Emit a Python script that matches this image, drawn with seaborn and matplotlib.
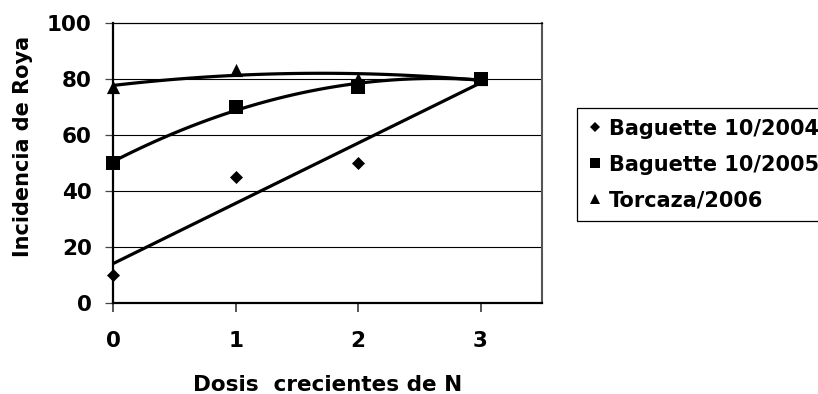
import matplotlib
matplotlib.use("Agg")
import matplotlib.pyplot as plt
from matplotlib.lines import Line2D
import numpy as np
import pandas as pd
import seaborn as sns

# Nitrogen dose levels and rust incidence per variety/season
dosis = [0, 1, 2, 3]
baguette_2004 = [10, 45, 50, 80]
baguette_2005 = [50, 70, 77, 80]
torcaza_2006 = [77, 83, 80, 80]

series_labels = ["Baguette 10/2004", "Baguette 10/2005", "Torcaza/2006"]
y_ticks = [0, 20, 40, 60, 80, 100]
x_ticks = [0, 1, 2, 3]

sns.set_theme(style="white")
plt.rcParams["font.family"] = ["DejaVu Sans"]
plt.rcParams["font.weight"] = "bold"
plt.rcParams["text.color"] = "black"
plt.rcParams["axes.labelcolor"] = "black"
plt.rcParams["xtick.labelcolor"] = "black"
plt.rcParams["ytick.labelcolor"] = "black"

fig = plt.figure(figsize=(8.18, 3.94), dpi=100)
W, H = 818, 394
ax = fig.add_axes([113.3 / W, 1 - 302.7 / H, (541.7 - 113.3) / W, (302.7 - 22.7) / H])

series = [
    (baguette_2004, "D", 1, 44),
    (baguette_2005, "s", 2, 100),
    (torcaza_2006, "^", 2, 90),
]

for values, marker, order, size in series:
    df = pd.DataFrame({"dosis": dosis, "incidencia": values})
    # trend line (linear or quadratic fit)
    sns.regplot(data=df, x="dosis", y="incidencia", order=order, ci=None,
                scatter=False, ax=ax,
                line_kws={"color": "black", "lw": 2.3, "zorder": 3,
                          "solid_capstyle": "butt"})
    sns.scatterplot(data=df, x="dosis", y="incidencia", marker=marker, s=size,
                    color="black", edgecolor="black", linewidth=0, ax=ax,
                    zorder=4, clip_on=False)

ax.set_xlim(0, 3.5)
ax.set_ylim(0, 100)
ax.set_xticks(x_ticks)
ax.set_yticks(y_ticks)
ax.set_xticklabels([str(t) for t in x_ticks], fontsize=15.5, fontweight="bold")
ax.set_yticklabels([str(t) for t in y_ticks], fontsize=15.5, fontweight="bold")

# horizontal gridlines
for yv in y_ticks[1:-1]:
    ax.axhline(yv, color="black", lw=0.8, zorder=1)

for side in ["left", "bottom"]:
    ax.spines[side].set_color("black")
    ax.spines[side].set_linewidth(1.6)
ax.spines["top"].set_color("black")
ax.spines["top"].set_linewidth(0.9)
ax.spines["right"].set_color("#555555")
ax.spines["right"].set_linewidth(1.5)

ax.tick_params(axis="y", direction="out", length=6, width=0.9, color="#444444",
               labelcolor="black", pad=9.5, left=True)
ax.tick_params(axis="x", direction="out", length=6.5, width=1.4, color="#555555",
               labelcolor="black", pad=14, bottom=True)

ax.set_xlabel("Dosis  crecientes de N", fontsize=15.5, fontweight="bold", color="black")
ax.set_ylabel("Incidencia de Roya", fontsize=15, fontweight="bold", color="black")
ax.xaxis.label.set_va("baseline")
ax.xaxis.set_label_coords(0.501, -0.314)
ax.yaxis.label.set_va("center")
ax.yaxis.set_label_coords(-0.211, 0.557)

handles = [
    Line2D([], [], marker="D", ls="none", color="black", markersize=5.4, markeredgewidth=0),
    Line2D([], [], marker="s", ls="none", color="black", markersize=7.8, markeredgewidth=0),
    Line2D([], [], marker="^", ls="none", color="black", markersize=7.8, markeredgewidth=0),
]
leg = fig.legend(handles, series_labels, loc="upper left",
                 bbox_to_anchor=(577.3 / W, 1 - 108.3 / H), borderaxespad=0,
                 frameon=True, fancybox=False, framealpha=1, edgecolor="black",
                 prop={"size": 15, "weight": "bold"}, handlelength=0.7,
                 handletextpad=0.3, labelspacing=0.76, borderpad=0.5)
leg.get_frame().set_linewidth(0.9)
for txt in leg.get_texts():
    txt.set_color("black")

fig.savefig("out.png", dpi=100)
